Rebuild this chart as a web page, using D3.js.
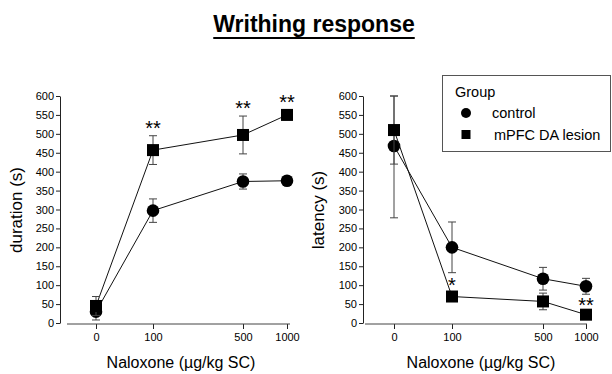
<!DOCTYPE html>
<html>
<head>
<meta charset="utf-8">
<script src="https://cdn.jsdelivr.net/npm/d3@7/dist/d3.min.js"></script>
<style>
  body { margin: 0; background: #fff; }
  svg { font-family: "Liberation Sans", Arial, sans-serif; }
</style>
</head>
<body>
<div id="chart"></div>
<script>
// data
var doses = [0, 100, 500, 1000];
var yTicks = [0, 50, 100, 150, 200, 250, 300, 350, 400, 450, 500, 550, 600];

var durControl = [30, 297, 374, 376];
var durControlErr = [22, 31, 20, 5];
var durLesion = [45, 457, 497, 550];
var durLesionErr = [25, 38, 50, 13];
var durStars = ["", "**", "**", "**"];

var latControl = [468, 200, 117, 97];
var latControlErr = [190, 67, 30, 21];
var latLesion = [510, 70, 57, 22];
var latLesionErr = [90, 8, 22, 5];
var latStars = ["", "*", "", "**"];

var W = 612, H = 374;
var svg = d3.select("#chart").append("svg")
  .attr("width", W)
  .attr("height", H);

// title
var title = svg.append("text")
  .attr("x", 314).attr("y", 32)
  .attr("text-anchor", "middle")
  .style("font-size", "23px")
  .style("font-weight", "bold")
  .text("Writhing response");
var tb = title.node().getBBox();
svg.append("line")
  .attr("x1", tb.x).attr("x2", tb.x + tb.width)
  .attr("y1", 38).attr("y2", 38)
  .attr("stroke", "#000").attr("stroke-width", 2);

function panel(opt) {
  var g = svg.append("g").attr("transform", "translate(" + opt.left + ",0)");

  var y = d3.scaleLinear().domain([0, 600]).range([323, 96]);
  var x = d3.scaleLinear().domain(doses).range(opt.xr);

  // y axis
  var ya = g.append("g")
    .call(d3.axisLeft(y).tickValues(yTicks).tickSize(4).tickPadding(2).tickSizeOuter(0));
  ya.selectAll("text").style("font-size", "11px").attr("fill", "#000");
  ya.selectAll("line").attr("stroke", "#222");
  ya.select(".domain").attr("stroke", "#222");

  // x axis
  var xa = g.append("g")
    .attr("transform", "translate(0,324)")
    .call(d3.axisBottom(x).tickValues(doses).tickFormat(d3.format("d"))
      .tickSize(5).tickPadding(4).tickSizeOuter(0));
  xa.select(".domain").remove();
  xa.selectAll("text").style("font-size", "11px").attr("fill", "#000");
  xa.selectAll("line").attr("stroke", "#222");
  xa.append("line")
    .attr("x1", opt.xLine[0]).attr("x2", opt.xLine[1])
    .attr("stroke", "#444").attr("stroke-width", 1);

  // axis titles
  g.append("text")
    .attr("transform", "translate(" + opt.yTitleX + ",210) rotate(-90)")
    .attr("text-anchor", "middle")
    .style("font-size", "17px")
    .text(opt.yTitle);
  g.append("text")
    .attr("x", opt.xTitleX).attr("y", 368)
    .attr("text-anchor", "middle")
    .style("font-size", "16px")
    .text("Naloxone (\u00b5g/kg SC)");

  var line = d3.line()
    .x(function(d, i) { return x(doses[i]); })
    .y(function(d) { return y(d); });

  function series(vals, errs, shape) {
    var s = g.append("g");
    s.append("path")
      .datum(vals)
      .attr("d", line)
      .attr("fill", "none")
      .attr("stroke", "#111")
      .attr("stroke-width", 1);
    var eb = s.selectAll(".err").data(vals).enter().append("g");
    eb.append("line")
      .attr("x1", function(d, i) { return x(doses[i]); })
      .attr("x2", function(d, i) { return x(doses[i]); })
      .attr("y1", function(d, i) { return y(Math.max(0, d - errs[i])); })
      .attr("y2", function(d, i) { return y(Math.min(600, d + errs[i])); })
      .attr("stroke", "#444");
    [-1, 1].forEach(function(sgn) {
      eb.append("line")
        .attr("x1", function(d, i) { return x(doses[i]) - 4; })
        .attr("x2", function(d, i) { return x(doses[i]) + 4; })
        .attr("y1", function(d, i) { return y(Math.min(600, Math.max(0, d + sgn * errs[i]))); })
        .attr("y2", function(d, i) { return y(Math.min(600, Math.max(0, d + sgn * errs[i]))); })
        .attr("stroke", "#444");
    });
    if (shape === "circle") {
      s.selectAll("circle").data(vals).enter().append("circle")
        .attr("cx", function(d, i) { return x(doses[i]); })
        .attr("cy", function(d) { return y(d); })
        .attr("r", 6.3)
        .attr("fill", "#000");
    } else {
      s.selectAll("rect").data(vals).enter().append("rect")
        .attr("x", function(d, i) { return x(doses[i]) - 6; })
        .attr("y", function(d) { return y(d) - 6; })
        .attr("width", 12).attr("height", 12)
        .attr("fill", "#000");
    }
  }

  series(opt.control, opt.controlErr, "circle");
  series(opt.lesion, opt.lesionErr, "square");

  // significance marks above the lesion error bars
  g.selectAll(".star").data(opt.stars).enter().append("text")
    .attr("x", function(d, i) { return x(doses[i]); })
    .attr("y", function(d, i) { return y(opt.lesion[i] + opt.lesionErr[i]) - 12 + 11; })
    .attr("text-anchor", "middle")
    .style("font-size", "20px")
    .text(function(d) { return d; });
}

panel({
  left: 60,
  xr: [36, 93, 183, 227],
  xLine: [7, 230],
  yTitle: "duration (s)",
  yTitleX: -38,
  xTitleX: 121,
  control: durControl, controlErr: durControlErr,
  lesion: durLesion, lesionErr: durLesionErr,
  stars: durStars
});

panel({
  left: 363,
  xr: [31, 89, 180, 223],
  xLine: [2, 224],
  yTitle: "latency (s)",
  yTitleX: -39,
  xTitleX: 118,
  control: latControl, controlErr: latControlErr,
  lesion: latLesion, lesionErr: latLesionErr,
  stars: latStars
});

// legend
var lg = svg.append("g");
lg.append("rect")
  .attr("x", 442.5).attr("y", 75.5)
  .attr("width", 168).attr("height", 76)
  .attr("fill", "#fff")
  .attr("stroke", "#555");
lg.append("text").attr("x", 455).attr("y", 97)
  .style("font-size", "14.5px").text("Group");
lg.append("circle").attr("cx", 466).attr("cy", 113).attr("r", 5).attr("fill", "#000");
lg.append("text").attr("x", 492).attr("y", 118)
  .style("font-size", "14.5px").text("control");
lg.append("rect").attr("x", 461.5).attr("y", 130).attr("width", 9).attr("height", 9).attr("fill", "#000");
lg.append("text").attr("x", 494).attr("y", 140)
  .style("font-size", "14.5px").text("mPFC DA lesion");
</script>
</body>
</html>
